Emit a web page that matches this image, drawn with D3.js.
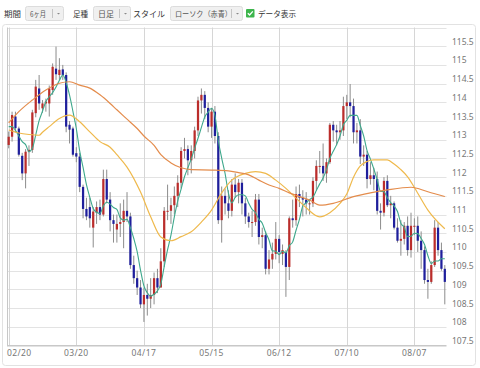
<!DOCTYPE html>
<html><head><meta charset="utf-8">
<script src="https://cdn.jsdelivr.net/npm/d3@7"></script>
<style>body{margin:0;background:#fff;}svg{display:block;}</style>
</head><body><svg id="c" width="480" height="368"></svg>
<script>
const days = ["02/20","02/21","02/22","02/23","02/24","02/27","02/28","03/01","03/02","03/03",
"03/06","03/07","03/08","03/09","03/10","03/13","03/14","03/15","03/16","03/17",
"03/20","03/21","03/22","03/23","03/24","03/27","03/28","03/29","03/30","03/31",
"04/03","04/04","04/05","04/06","04/07","04/10","04/11","04/12","04/13","04/14",
"04/17","04/18","04/19","04/20","04/21","04/24","04/25","04/26","04/27","04/28",
"05/01","05/02","05/03","05/04","05/05","05/08","05/09","05/10","05/11","05/12",
"05/15","05/16","05/17","05/18","05/19","05/22","05/23","05/24","05/25","05/26",
"05/29","05/30","05/31","06/01","06/02","06/05","06/06","06/07","06/08","06/09",
"06/12","06/13","06/14","06/15","06/16","06/19","06/20","06/21","06/22","06/23",
"06/26","06/27","06/28","06/29","06/30","07/03","07/04","07/05","07/06","07/07",
"07/10","07/11","07/12","07/13","07/14","07/17","07/18","07/19","07/20","07/21",
"07/24","07/25","07/26","07/27","07/28","07/31","08/01","08/02","08/03","08/04",
"08/07","08/08","08/09","08/10","08/11","08/14","08/15","08/16","08/17","08/18"];

const opens = [112.86,113.08,113.62,113.30,112.57,112.10,112.67,112.73,113.71,114.37,
113.84,113.97,113.97,114.33,114.90,114.73,114.88,114.73,113.40,113.30,
112.64,112.55,111.74,111.15,111.20,110.65,111.05,111.20,111.00,111.95,
111.40,110.85,110.60,110.75,110.80,111.10,110.95,109.65,109.30,109.05,
108.60,108.85,108.75,108.85,109.30,109.05,109.75,111.10,111.10,111.25,
111.50,111.85,112.70,112.75,112.45,112.70,113.25,114.05,114.20,113.85,
113.35,113.75,113.10,110.85,111.50,111.30,111.10,111.80,111.60,111.85,
111.30,110.95,110.80,110.80,111.40,110.40,110.45,109.55,109.80,109.95,
110.35,109.95,110.00,109.60,110.90,110.85,111.55,111.45,111.40,111.30,
111.30,111.90,112.30,112.30,112.10,112.40,113.40,113.25,113.20,113.25,
113.90,114.00,113.90,113.20,113.25,112.55,112.60,111.95,112.05,111.95,
111.10,111.05,111.90,111.25,111.30,110.65,110.30,110.35,110.70,110.05,
110.70,110.70,110.30,110.05,109.25,109.20,109.65,110.65,110.05,109.55];
const highs = [113.22,113.75,113.75,113.35,112.65,112.75,112.85,113.80,114.60,114.73,
114.06,114.10,114.45,115.04,115.49,115.18,115.00,114.80,113.50,113.35,
112.80,112.65,111.80,111.45,111.45,111.20,111.35,111.40,112.20,112.20,
111.60,111.00,111.00,111.30,111.40,111.60,111.05,109.90,109.50,109.25,
109.05,109.15,109.30,109.45,109.55,110.10,111.20,111.80,111.45,111.75,
112.05,112.80,113.05,112.85,112.85,113.35,114.15,114.37,114.30,114.00,
113.85,113.90,113.20,111.75,111.70,111.65,111.95,112.10,111.95,111.95,
111.45,111.05,111.10,111.55,111.55,110.65,110.55,110.05,110.25,110.80,
110.45,110.20,110.05,110.95,111.40,111.75,111.80,111.65,111.60,111.40,
112.00,112.45,112.70,112.90,112.50,113.45,113.50,113.40,113.50,114.15,
114.20,114.49,114.10,113.45,113.55,112.85,112.70,112.40,112.25,112.15,
111.30,112.00,112.05,111.50,111.35,110.90,110.85,110.80,110.95,111.05,
110.90,110.95,110.55,110.15,109.55,109.75,110.85,110.80,110.25,109.65];
const lows = [112.77,112.95,113.20,112.55,111.92,111.70,112.30,112.65,113.60,113.80,
113.72,113.75,113.62,114.20,114.60,114.60,114.60,113.20,112.90,112.55,
112.40,111.60,110.90,110.85,110.65,110.12,110.75,110.85,110.95,111.30,
110.55,110.25,110.25,110.40,110.10,110.80,109.55,109.15,108.85,108.50,
108.13,108.30,108.50,108.60,108.90,109.05,109.60,110.85,110.75,111.00,
111.20,111.70,112.50,112.05,112.10,112.50,113.10,113.70,113.55,113.20,
113.05,112.90,110.75,110.25,111.00,110.90,110.95,111.45,111.30,111.00,
110.75,110.65,110.40,110.70,110.20,110.10,109.40,109.40,109.55,109.80,
109.70,109.65,108.80,109.25,110.65,110.70,111.20,110.95,111.00,111.00,
111.20,111.65,112.10,111.90,111.85,112.35,112.95,112.85,113.00,113.10,
113.55,113.60,112.90,112.90,112.35,112.30,111.70,111.80,111.65,111.00,
110.60,110.95,111.20,110.90,110.60,110.25,109.90,110.20,109.90,109.85,
110.45,110.00,109.55,109.15,108.75,109.15,109.60,109.90,109.50,108.60];
const closes = [113.08,113.66,113.31,112.60,112.10,112.68,112.73,113.73,114.42,113.97,
113.97,114.02,114.37,114.95,114.75,114.87,114.73,113.35,113.27,112.60,
112.55,111.74,111.15,110.95,110.90,111.08,111.20,111.00,111.95,111.40,
110.85,110.75,110.75,110.80,111.10,110.95,109.65,109.30,109.05,108.60,
108.85,108.75,108.85,109.30,109.05,109.75,111.10,111.10,111.25,111.50,
111.85,112.70,112.75,112.45,112.70,113.25,114.05,114.20,113.85,113.35,
113.75,113.10,110.85,111.50,111.30,111.10,111.80,111.60,111.85,111.30,
110.95,110.80,110.80,111.40,110.40,110.45,109.55,109.80,109.95,110.35,
110.00,110.05,109.60,110.90,110.85,111.55,111.45,111.40,111.30,111.30,
111.90,112.30,112.30,112.10,112.40,113.40,113.25,113.20,113.25,113.90,
114.00,113.90,113.20,113.25,112.55,112.60,111.95,112.05,111.95,111.10,
111.05,111.90,111.25,111.30,110.65,110.30,110.35,110.70,110.05,110.70,
110.70,110.30,110.05,109.25,109.20,109.65,110.65,110.05,109.55,109.20];

// short moving average (green), one value per day
const maShort = [113.35,113.35,113.25,113.10,112.95,112.87,112.68,112.77,113.13,113.51,
113.76,114.02,114.15,114.26,114.41,114.59,114.73,114.53,114.19,113.76,
113.30,112.70,112.26,111.80,111.46,111.16,111.06,111.03,111.23,111.33,
111.28,111.19,111.14,110.91,110.85,110.87,110.65,110.36,110.01,109.51,
109.09,108.91,108.82,108.87,108.96,109.14,109.61,110.06,110.45,110.94,
111.36,111.68,112.01,112.25,112.49,112.77,113.04,113.33,113.61,113.74,
113.84,113.65,112.98,112.51,112.10,111.57,111.31,111.46,111.53,111.53,
111.50,111.30,111.14,111.05,110.87,110.77,110.52,110.32,110.03,110.02,
109.93,110.02,109.98,110.17,110.27,110.58,110.87,111.23,111.31,111.40,
111.47,111.64,111.82,111.98,112.20,112.50,112.69,112.87,113.10,113.40,
113.52,113.65,113.65,113.65,113.38,113.10,112.71,112.48,112.22,111.93,
111.62,111.61,111.45,111.32,111.23,111.08,110.77,110.66,110.41,110.42,
110.50,110.49,110.36,110.20,109.90,109.69,109.76,109.76,109.82,109.82];

// medium moving average (gold), read at sample days
const maMidDays = ["02/20","02/23","02/28","03/03","03/06","03/08","03/13","03/16","03/21","03/24","03/29","04/03","04/05","04/10","04/14","04/19","04/24","04/27","05/02","05/05","05/10","05/15","05/18","05/23","05/29","06/01","06/06","06/09","06/14","06/19","06/22","06/28","07/03","07/06","07/10","07/12","07/14","07/18","07/20","07/26","07/28","08/01","08/03","08/08","08/11","08/18"];
const maMid = [113.26,113.18,113.14,113.12,113.20,113.35,113.57,113.66,113.48,113.21,112.95,112.80,112.60,112.27,111.60,110.94,110.40,110.30,110.41,110.54,110.80,111.12,111.58,111.92,112.10,112.15,112.10,111.92,111.70,111.44,111.18,110.94,111.05,111.30,111.55,112.00,112.30,112.42,112.46,112.46,112.35,112.20,112.01,111.57,111.12,110.62];

// long moving average (orange), read at sample days
const maLongDays = ["02/20","02/23","03/01","03/07","03/13","03/16","03/21","03/24","03/29","04/03","04/05","04/10","04/13","04/17","04/20","04/24","04/27","05/02","05/05","05/15","05/22","05/25","05/30","06/02","06/07","06/12","06/15","06/20","06/23","06/28","07/04","07/12","07/19","07/26","08/04","08/11","08/18"];
const maLong = [113.45,113.75,114.06,114.33,114.51,114.55,114.46,114.38,114.20,113.97,113.80,113.55,113.30,113.10,112.85,112.60,112.38,112.25,112.20,112.19,112.17,112.12,112.06,111.92,111.79,111.70,111.58,111.48,111.39,111.25,111.30,111.48,111.58,111.66,111.73,111.61,111.48];

const yTicks = [107.5,108,108.5,109,109.5,110,110.5,111,111.5,112,112.5,113,113.5,114,114.5,115,115.5];
const xTicks = ["02/20","03/20","04/17","05/15","06/12","07/10","08/07"];

const svg = d3.select("#c");
const L = 7, R = 446.5, T = 27.5, B = 345.5;
const x = d3.scaleBand().domain(days).range([L, R]).paddingInner(0.34).paddingOuter(0.17);
const cx = d => x(d) + x.bandwidth() / 2;
const y = d3.scaleLinear().domain([107.5, 116]).range([B, T]);

// panel
svg.append("rect").attr("x", 2.5).attr("y", 24.5).attr("width", 473).attr("height", 341)
  .attr("rx", 3).attr("fill", "#fff").attr("stroke", "#e2e2e2");

// toolbar
const jp = "'Noto Sans CJK JP', sans-serif";
const tb = svg.append("g").attr("font-family", jp).attr("font-size", 8.2).attr("fill", "#333");
function label(tx, xx, w) {
  tb.append("text").attr("x", xx).attr("y", 17).attr("textLength", w).attr("lengthAdjust", "spacingAndGlyphs").text(tx);
}
function button(tx, x0, w, tw) {
  const g = tb.append("g");
  g.append("rect").attr("x", x0 + 0.5).attr("y", 6.5).attr("width", w).attr("height", 14).attr("rx", 2)
    .attr("fill", "#f0f0f0").attr("stroke", "#dcdcdc");
  g.append("text").attr("x", x0 + 5).attr("y", 17).attr("fill", "#555").attr("font-size", 7.6)
    .attr("textLength", tw).attr("lengthAdjust", "spacingAndGlyphs").text(tx);
  g.append("line").attr("x1", x0 + w - 10.5).attr("x2", x0 + w - 10.5).attr("y1", 9).attr("y2", 18).attr("stroke", "#c4c4c4");
  g.append("path").attr("d", `M${x0 + w - 6},13 l3,0 l-1.5,1.5 z`).attr("fill", "#888");
}
label("期間", 4, 17);
button("6ヶ月", 25, 38, 16);
label("足種", 73, 15);
button("日足", 93, 37, 16);
label("スタイル", 133, 32);
button("ローソク（赤青）", 170, 72, 57);
tb.append("rect").attr("x", 246).attr("y", 9).attr("width", 8.5).attr("height", 8.5).attr("rx", 1).attr("fill", "#3db54c");
tb.append("path").attr("d", "M247.8,13.2 l1.8,1.8 l3.2,-3.6").attr("fill", "none").attr("stroke", "#fff").attr("stroke-width", 1.3);
label("データ表示", 258, 38);

// grid
svg.append("g").selectAll("line").data(yTicks.concat([116])).join("line")
  .attr("x1", L).attr("x2", R).attr("y1", d => Math.round(y(d)) + 0.5).attr("y2", d => Math.round(y(d)) + 0.5)
  .attr("stroke", "#e3e3e3");
svg.append("g").selectAll("line").data(xTicks).join("line")
  .attr("x1", d => Math.round(cx(d)) + 0.5).attr("x2", d => Math.round(cx(d)) + 0.5).attr("y1", T).attr("y2", B)
  .attr("stroke", "#d6d6d6");
svg.append("line").attr("x1", L + 0.5).attr("x2", L + 0.5).attr("y1", T).attr("y2", B).attr("stroke", "#c8c8c8");
svg.append("line").attr("x1", L).attr("x2", R).attr("y1", B).attr("y2", B).attr("stroke", "#c8c8c8");

// axis labels
const num = "'Noto Sans', 'DejaVu Sans', sans-serif";
svg.append("g").selectAll("text").data(yTicks).join("text")
  .attr("x", 452).attr("y", d => y(d) - 1.5).attr("font-family", num).attr("font-size", 8.5).attr("fill", "#777")
  .text(d => String(d));
svg.append("g").selectAll("text").data(xTicks).join("text")
  .attr("x", (d, i) => i === 0 ? L : cx(d)).attr("y", 355.5)
  .attr("text-anchor", (d, i) => i === 0 ? "start" : "middle")
  .attr("font-family", num).attr("font-size", 8.5).attr("fill", "#777").attr("letter-spacing", 0.4)
  .text(d => d);

// candles
const cg = svg.append("g");
days.forEach((d, i) => {
  const up = closes[i] >= opens[i];
  const xc = cx(d);
  cg.append("line").attr("x1", xc).attr("x2", xc).attr("y1", y(highs[i])).attr("y2", y(lows[i]))
    .attr("stroke", "#8c8c8c").attr("stroke-width", 1);
  const top = y(Math.max(opens[i], closes[i])), bot = y(Math.min(opens[i], closes[i]));
  cg.append("rect").attr("x", x(d)).attr("width", x.bandwidth())
    .attr("y", top).attr("height", Math.max(1, bot - top))
    .attr("fill", up ? "#bb2d2b" : "#1f1f9c");
});

// moving averages
const lineS = d3.line().x((v, i) => cx(days[i])).y(v => y(v)).curve(d3.curveMonotoneX);
svg.append("path").attr("d", lineS(maShort)).attr("fill", "none").attr("stroke", "#3ea88c").attr("stroke-width", 1.1);
const lineM = d3.line().x((v, i) => cx(maMidDays[i])).y(v => y(v)).curve(d3.curveMonotoneX);
svg.append("path").attr("d", lineM(maMid)).attr("fill", "none").attr("stroke", "#efb94c").attr("stroke-width", 1.2);
const lineL = d3.line().x((v, i) => cx(maLongDays[i])).y(v => y(v)).curve(d3.curveMonotoneX);
svg.append("path").attr("d", lineL(maLong)).attr("fill", "none").attr("stroke", "#e48c4c").attr("stroke-width", 1.2);
</script></body></html>
